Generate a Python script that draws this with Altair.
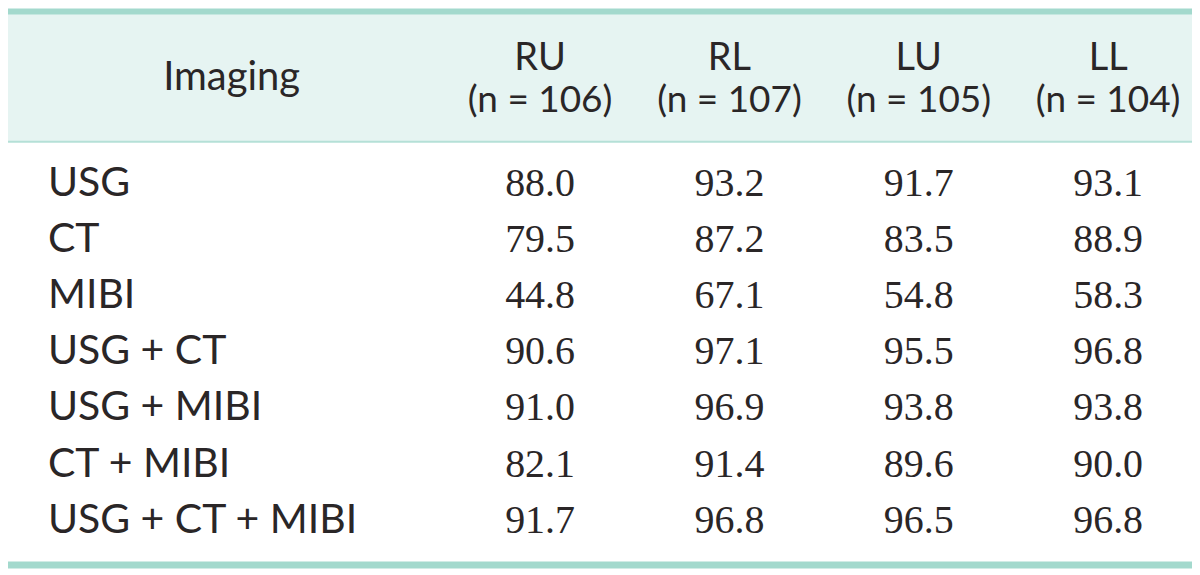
import altair as alt
import pandas as pd

row_labels = ["USG", "CT", "MIBI", "USG + CT", "USG + MIBI", "CT + MIBI", "USG + CT + MIBI"]
col_names = ["RU", "RL", "LU", "LL"]
col_n = ["(n = 106)", "(n = 107)", "(n = 105)", "(n = 104)"]
ru = ["88.0", "79.5", "44.8", "90.6", "91.0", "82.1", "91.7"]
rl = ["93.2", "87.2", "67.1", "97.1", "96.9", "91.4", "96.8"]
lu = ["91.7", "83.5", "54.8", "95.5", "93.8", "89.6", "96.5"]
ll = ["93.1", "88.9", "58.3", "96.8", "93.8", "90.0", "96.8"]
first_header = "Imaging"

W, H = 1186, 559
TEAL = "#a3d9cd"
HEADER_BG = "#e6f4f2"
TXT = "#2a2627"
SANS = "Lato"
SERIF = "Liberation Serif"

cols_vals = {"RU": ru, "RL": rl, "LU": lu, "LL": ll}
body = pd.DataFrame(
    [{"row": r, "col": c, "val": cols_vals[c][i]} for c in col_names for i, r in enumerate(row_labels)]
)
labels_df = pd.DataFrame({"row": row_labels})
head_df = pd.DataFrame({"col": col_names, "n": col_n})

xcol = alt.X("col:N", scale=alt.Scale(type="point", domain=col_names, range=[533, 1102], padding=0), axis=None)
yrow = alt.Y("row:N", scale=alt.Scale(type="point", domain=row_labels, range=[176, 513], padding=0), axis=None)

base_df = pd.DataFrame({"k": [0]})
header_bg = alt.Chart(base_df).mark_rect(color=HEADER_BG).encode(
    x=alt.value(0), x2=alt.value(W), y=alt.value(5), y2=alt.value(133)
)
top_band = alt.Chart(base_df).mark_rect(color=TEAL).encode(
    x=alt.value(0), x2=alt.value(W), y=alt.value(0), y2=alt.value(6)
)
head_line = alt.Chart(base_df).mark_rect(color="#b5e0d7").encode(
    x=alt.value(0), x2=alt.value(W), y=alt.value(132.5), y2=alt.value(134.5)
)
bottom_band = alt.Chart(base_df).mark_rect(color=TEAL).encode(
    x=alt.value(0), x2=alt.value(W), y=alt.value(554), y2=alt.value(561)
)

imaging = alt.Chart(pd.DataFrame({"t": [first_header]})).mark_text(
    font=SANS, fontSize=40, color=TXT, align="center", baseline="middle"
).encode(text="t:N", x=alt.value(224), y=alt.value(70))

head_top = alt.Chart(head_df).mark_text(
    font=SANS, fontSize=38, color=TXT, align="center", baseline="middle"
).encode(text="col:N", x=xcol, y=alt.value(51))
head_bot = alt.Chart(head_df).mark_text(
    font=SANS, fontSize=37, color=TXT, align="center", baseline="middle"
).encode(text="n:N", x=xcol, y=alt.value(93))

row_text = alt.Chart(labels_df).mark_text(
    font=SANS, fontSize=41, color=TXT, align="left", baseline="middle"
).encode(text="row:N", x=alt.value(40), y=yrow)

vals = alt.Chart(body).mark_text(
    font=SERIF, fontSize=40, color=TXT, align="center", baseline="middle"
).encode(text="val:N", x=xcol, y=yrow)

chart = alt.layer(
    header_bg, top_band, head_line, bottom_band, imaging, head_top, head_bot, row_text, vals
).properties(width=W, height=H, padding=0).configure_view(stroke=None)

chart.save("out.html", embed_options={"renderer": "svg", "actions": False})
